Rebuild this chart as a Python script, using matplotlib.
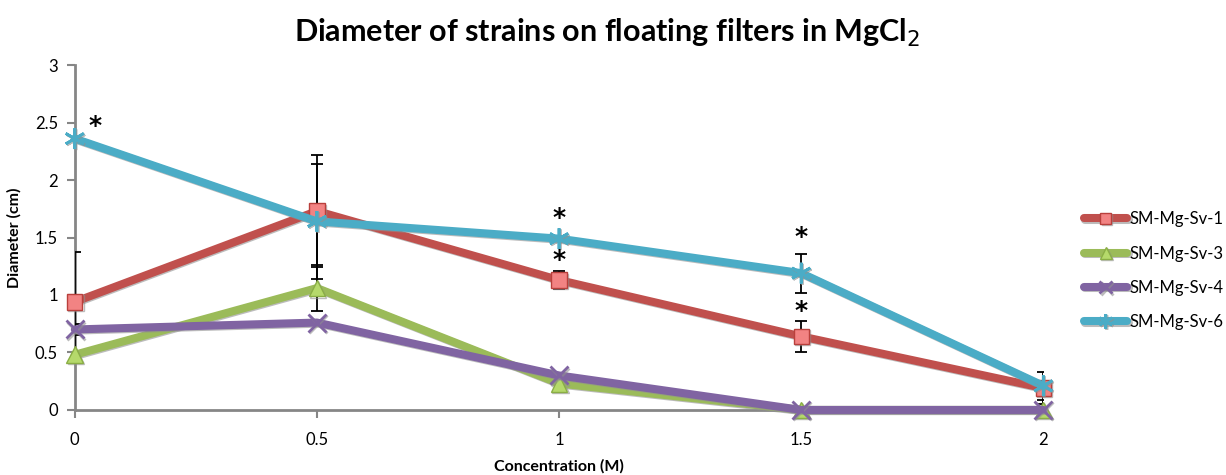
import matplotlib
matplotlib.use("Agg")
import matplotlib.pyplot as plt
import matplotlib.patheffects as pe

plt.rcParams['font.family'] = ['Lato', 'DejaVu Sans']

concentration = [0, 0.5, 1, 1.5, 2]
x_labels = ['0', '0.5', '1', '1.5', '2']

sv1 = [0.94, 1.73, 1.13, 0.64, 0.19]
sv1_err = [0.43, 0.49, 0.08, 0.135, 0.14]
sv3 = [0.48, 1.06, 0.23, 0.0, 0.0]
sv3_err = [0.0, 0.2, 0.0, 0.0, 0.09]
sv4 = [0.70, 0.76, 0.30, 0.0, 0.0]
sv4_err = [0.05, 0.0, 0.0, 0.0, 0.0]
sv6 = [2.36, 1.64, 1.49, 1.19, 0.21]
sv6_err = [0.0, 0.5, 0.0, 0.17, 0.0]

# significance asterisks: concentration and pixel offset from the point
stars_sv6 = [(0, 20, 13), (1, 0, 21), (1.5, 0, 36)]
stars_sv1 = [(1, 0, 20), (1.5, 0, 25)]

series = [
    ('SM-Mg-Sv-1', sv1, sv1_err, '#C0504D', 's', '#F28383', '#B9403C', 11, 1.0),
    ('SM-Mg-Sv-3', sv3, sv3_err, '#9BBB59', '^', '#B5D96B', '#8AAE45', 12, 1.0),
    ('SM-Mg-Sv-4', sv4, sv4_err, '#8064A2', 'x', '#8064A2', '#8064A2', 13, 2.0),
    ('SM-Mg-Sv-6', sv6, sv6_err, '#4BACC6', (6, 2, 0), '#4BACC6', '#4BACC6', 15, 2.0),
]

fig = plt.figure(figsize=(12.26, 4.75), dpi=100)
ax = fig.add_axes([0.061, 0.137, 0.790, 0.726])

shadow = [pe.SimpleLineShadow(offset=(0.8, -0.8), shadow_color='#909090', alpha=0.6), pe.Normal()]

for name, vals, err, col, mk, mfc, mec, ms, mew in series:
    ax.errorbar(concentration, vals, yerr=err, fmt='none', ecolor='black',
                elinewidth=1.3, capsize=4, capthick=1.3, zorder=2.6)
    ln, = ax.plot(concentration, vals, color=col, lw=5.8, marker=mk, markersize=ms,
                  markerfacecolor=mfc, markeredgecolor=mec, markeredgewidth=mew,
                  label=name, zorder=3, solid_capstyle='round', clip_on=False)
    ln.set_path_effects(shadow)

for xv, dx, dy in stars_sv6:
    i = concentration.index(xv)
    ax.annotate('*', (xv, sv6[i]), xytext=(dx, dy), textcoords='offset pixels',
                ha='center', va='center', fontsize=18, fontweight='bold',
                family='DejaVu Sans', zorder=5)
for xv, dx, dy in stars_sv1:
    i = concentration.index(xv)
    ax.annotate('*', (xv, sv1[i]), xytext=(dx, dy), textcoords='offset pixels',
                ha='center', va='center', fontsize=18, fontweight='bold',
                family='DejaVu Sans', zorder=5)

ax.set_xlim(0, 2)
ax.set_ylim(0, 3)
ax.set_xticks(concentration)
ax.set_xticklabels(x_labels)
ax.set_yticks([0, 0.5, 1, 1.5, 2, 2.5, 3])
ax.set_yticklabels(['0', '0.5', '1', '1.5', '2', '2.5', '3'])

for side in ('top', 'right'):
    ax.spines[side].set_visible(False)
for side in ('left', 'bottom'):
    ax.spines[side].set_color('#868686')
    ax.spines[side].set_linewidth(2)
ax.tick_params(axis='both', color='#868686', width=1.5, length=6, labelsize=12, direction='out')
ax.tick_params(axis='x', pad=10)
ax.tick_params(axis='y', pad=6)

ax.set_xlabel('Concentration (M)', fontsize=11.5, fontweight='bold', labelpad=8)
ax.set_ylabel('Diameter (cm)', fontsize=11.5, fontweight='bold', labelpad=10)

fig.suptitle('Diameter of strains on floating filters in MgCl$_2$', x=0.495, y=0.965,
             fontsize=22, fontweight='bold')

fig.legend(loc='center left', bbox_to_anchor=(0.872, 0.43), frameon=False,
           fontsize=12, handlelength=2.6, handletextpad=0.1, labelspacing=1.1,
           markerscale=0.7)

fig.savefig('out.png', dpi=100)
